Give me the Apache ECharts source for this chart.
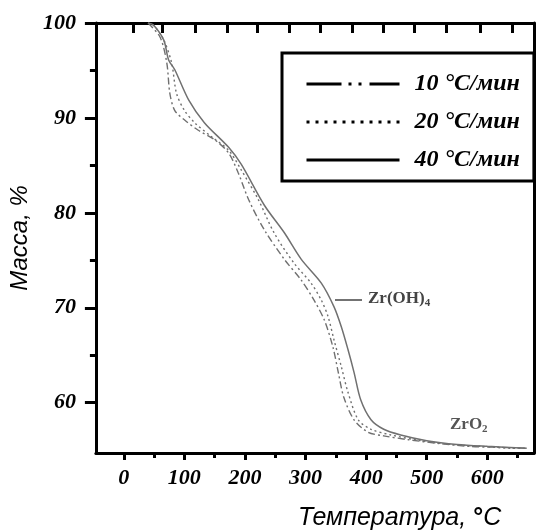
<!DOCTYPE html>
<html><head><meta charset="utf-8">
<script src="https://cdn.jsdelivr.net/npm/echarts@6/dist/echarts.min.js"></script>
<style>html,body{margin:0;padding:0;background:#fff}#c{width:537px;height:532px}</style>
</head><body><div id="c"></div>
<script>
const seriesNames = ['10 °C/мин', '20 °C/мин', '40 °C/мин'];

const temp10 = [40, 60, 71, 76, 84, 100, 123, 150, 173, 189, 206, 232, 265, 293, 314, 331, 345, 354, 363, 380, 403, 429, 470, 520, 570, 620, 665];
const mass10 = [100, 98.5, 95.8, 92.6, 90.8, 89.8, 88.7, 87.7, 86.3, 84.2, 81.4, 78.2, 75.1, 72.9, 70.8, 68.7, 65.9, 63.2, 60.6, 58.2, 56.9, 56.5, 56.1, 55.7, 55.4, 55.3, 55.2];

const temp20 = [40, 50, 66, 79, 87, 100, 117, 145, 173, 194, 222, 248, 281, 309, 326, 337, 347, 359, 370, 387, 408, 441, 490, 540, 590, 640, 665];
const mass20 = [100, 99.7, 98.2, 95.8, 92.6, 90.8, 89.5, 88.0, 86.6, 84.5, 81.4, 77.9, 74.7, 72.6, 70.8, 69.1, 66.6, 63.8, 61.1, 58.2, 57.2, 56.6, 56.0, 55.6, 55.4, 55.2, 55.2];

const temp40 = [40, 49, 66, 74, 84, 107, 133, 173, 194, 232, 265, 293, 326, 347, 359, 370, 380, 391, 408, 429, 457, 500, 550, 600, 665];
const mass40 = [100, 99.8, 98.2, 96.1, 95.1, 91.9, 89.5, 86.9, 85.1, 80.8, 77.9, 75.1, 72.6, 70.1, 68.0, 65.6, 63.2, 60.3, 58.2, 57.2, 56.6, 56.0, 55.6, 55.4, 55.2];

const xTickValues = [0, 100, 200, 300, 400, 500, 600];
const xMinorTickValues = [50, 150, 250, 350, 450, 550, 650];
const topTickValues = [16, 63, 118, 170, 221, 273, 325, 377, 428, 480, 532, 589, 641];
const yTickValues = [60, 70, 80, 90, 100];
const yMinorTickValues = [65, 75, 85, 95];

const xTitle = 'Температура, ';
const yTitle = 'Масса, %';
const noteHydroxide = 'Zr(OH)';
const noteOxide = 'ZrO';

const X_MIN = -46, X_MAX = 677, Y_MIN = 54.7, Y_MAX = 100;
const curveColor = '#707070';
const tickFont = {fontFamily: 'Liberation Serif', fontStyle: 'italic', fontWeight: 'bold', fontSize: 22, color: '#000'};
const legendFont = {fontFamily: 'Liberation Serif', fontStyle: 'italic', fontWeight: 'bold', fontSize: 24, color: '#000'};

function pairs(t, m) { return t.map((v, i) => [v, m[i]]); }
const hiddenSymbol = {opacity: 0, color: 'rgba(0,0,0,0)', borderWidth: 0};

const chart = echarts.init(document.getElementById('c'), null, {renderer: 'canvas'});
chart.setOption({
  animation: false,
  backgroundColor: '#fff',
  grid: {left: 94, right: 3, top: 23, bottom: 79, containLabel: false},
  xAxis: [
    {type: 'value', position: 'bottom', min: X_MIN, max: X_MAX,
     axisLine: {show: true, onZero: false, lineStyle: {color: '#000', width: 3}},
     axisTick: {show: true, inside: false, length: 7, customValues: xTickValues, lineStyle: {color: '#000', width: 3}},
     axisLabel: Object.assign({show: true, margin: 14, customValues: xTickValues}, tickFont),
     splitLine: {show: false}},
    {type: 'value', position: 'bottom', min: X_MIN, max: X_MAX,
     axisLine: {show: false, onZero: false},
     axisTick: {show: true, inside: false, length: 5, customValues: xMinorTickValues, lineStyle: {color: '#000', width: 3}},
     axisLabel: {show: false}, splitLine: {show: false}},
    {type: 'value', position: 'top', min: X_MIN, max: X_MAX,
     axisLine: {show: true, onZero: false, lineStyle: {color: '#000', width: 3}},
     axisTick: {show: true, inside: true, length: 10, customValues: topTickValues, lineStyle: {color: '#000', width: 3}},
     axisLabel: {show: false}, splitLine: {show: false}}
  ],
  yAxis: [
    {type: 'value', position: 'left', min: Y_MIN, max: Y_MAX,
     axisLine: {show: true, onZero: false, lineStyle: {color: '#000', width: 3}},
     axisTick: {show: true, inside: false, length: 11, customValues: yTickValues, lineStyle: {color: '#000', width: 3}},
     axisLabel: Object.assign({show: true, margin: 20, customValues: yTickValues}, tickFont),
     splitLine: {show: false},
     name: yTitle, nameLocation: 'middle', nameGap: 60, nameRotate: 90,
     nameTextStyle: {fontFamily: 'Liberation Sans', fontStyle: 'italic', fontSize: 24, color: '#000'}},
    {type: 'value', position: 'left', min: Y_MIN, max: Y_MAX,
     axisLine: {show: false, onZero: false},
     axisTick: {show: true, inside: false, length: 6, customValues: yMinorTickValues, lineStyle: {color: '#000', width: 3}},
     axisLabel: {show: false}, splitLine: {show: false}},
    {type: 'value', position: 'right', min: Y_MIN, max: Y_MAX,
     axisLine: {show: true, onZero: false, lineStyle: {color: '#000', width: 3}},
     axisTick: {show: false}, axisLabel: {show: false}, splitLine: {show: false}}
  ],
  legend: {
    orient: 'vertical', left: 282, top: 53,
    itemWidth: 93, itemHeight: 14, itemGap: 14,
    padding: [19, 14, 9, 23],
    borderColor: '#000', borderWidth: 3, backgroundColor: '#fff',
    textStyle: Object.assign({padding: [0, 0, 0, 10]}, legendFont),
    data: [
      {name: seriesNames[0], itemStyle: hiddenSymbol, lineStyle: {color: '#000', width: 3, type: [35, 7, 3, 7, 3, 8]}},
      {name: seriesNames[1], itemStyle: hiddenSymbol, lineStyle: {color: '#000', width: 3, type: [3, 6]}},
      {name: seriesNames[2], itemStyle: hiddenSymbol, lineStyle: {color: '#000', width: 3, type: 'solid'}}
    ]
  },
  series: [
    {name: seriesNames[0], type: 'line', xAxisIndex: 0, yAxisIndex: 0, data: pairs(temp10, mass10),
     symbol: 'none', smooth: 0.3, lineStyle: {color: curveColor, width: 1.4, type: [7, 3, 2, 3]}, itemStyle: {color: '#000'}},
    {name: seriesNames[1], type: 'line', xAxisIndex: 0, yAxisIndex: 0, data: pairs(temp20, mass20),
     symbol: 'none', smooth: 0.3, lineStyle: {color: curveColor, width: 1.4, type: [2, 3]}, itemStyle: {color: '#000'}},
    {name: seriesNames[2], type: 'line', xAxisIndex: 0, yAxisIndex: 0, data: pairs(temp40, mass40),
     symbol: 'none', smooth: 0.3, lineStyle: {color: curveColor, width: 1.5, type: 'solid'}, itemStyle: {color: '#000'}}
  ],
  graphic: [
    {type: 'text', left: 298, top: 506, z: 10,
     style: {text: xTitle + '{d|°}C', fontFamily: 'Liberation Sans', fontStyle: 'italic', fontSize: 25, fill: '#000',
       rich: {d: {fontFamily: 'Liberation Sans', fontWeight: 'bold', fontSize: 25, verticalAlign: 'top'}}}},
    {type: 'line', z: 10, shape: {x1: 335, y1: 300, x2: 362, y2: 300}, style: {stroke: '#444', lineWidth: 1.5}},
    {type: 'text', left: 368, top: 290, z: 10,
     style: {text: noteHydroxide + '{s|4}', fontFamily: 'Liberation Serif', fontWeight: 'bold', fontSize: 17, fill: '#444',
       rich: {s: {fontFamily: 'Liberation Serif', fontWeight: 'bold', fontSize: 11, fill: '#444', padding: [9, 0, 0, 0]}}}},
    {type: 'text', left: 450, top: 416, z: 10,
     style: {text: noteOxide + '{s|2}', fontFamily: 'Liberation Serif', fontWeight: 'bold', fontSize: 17, fill: '#555',
       rich: {s: {fontFamily: 'Liberation Serif', fontWeight: 'bold', fontSize: 11, fill: '#555', padding: [9, 0, 0, 0]}}}}
  ]
});
</script></body></html>
